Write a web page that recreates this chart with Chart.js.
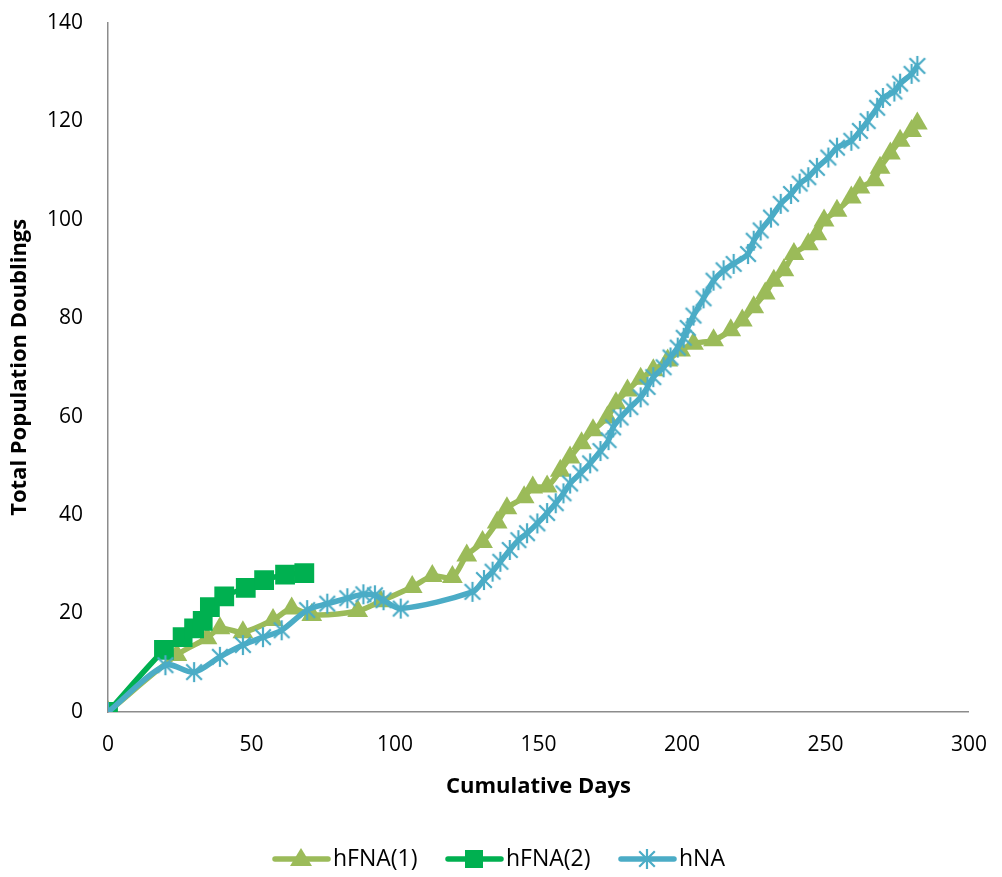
<!DOCTYPE html>
<html>
<head>
<meta charset="utf-8">
<script src="https://cdn.jsdelivr.net/npm/chart.js@4.4.0/dist/chart.umd.min.js"></script>
<style>
  html, body { margin: 0; padding: 0; background: #fff; overflow: hidden; }
  #wrap { width: 1002px; height: 877px; position: relative; overflow: hidden; }
  #c { position: absolute; left: 0; top: -15px; }
</style>
</head>
<body>
<div id="wrap"><canvas id="c" width="1007" height="892"></canvas></div>
<script>
// ---- data ----
const seriesNames = ['hFNA(1)', 'hFNA(2)', 'hNA'];
const xTicks = [0, 50, 100, 150, 200, 250, 300];
const yTicks = [0, 20, 40, 60, 80, 100, 120, 140];

const hFNA1Days = [0, 24, 34.5, 39, 47, 57.5, 64, 71, 87, 95, 106, 113, 120, 125, 130.5, 135.6, 139, 145, 148, 153, 157.6, 161, 165, 169, 174, 177, 181, 185.6, 190, 195, 199.5, 204, 211, 217, 221, 225, 229, 232, 235.5, 239, 244, 247, 249.5, 254, 259, 262, 267, 269, 272.6, 276, 280, 282];
const hFNA1PD   = [0, 11.6, 15, 17, 16.2, 18.7, 21, 19.7, 20.5, 22.5, 25.4, 27.6, 27.4, 31.8, 34.5, 38.5, 41.4, 43.6, 45.6, 45.8, 49, 51.7, 54.6, 57.2, 59.8, 62.7, 65.3, 67.7, 69.4, 71.4, 73.4, 74.8, 75.5, 77.5, 79.5, 82.2, 85, 87.6, 89.7, 93, 95, 97, 99.8, 101.8, 104.5, 106.5, 108, 110.5, 113.4, 116, 118, 119.5];

const hFNA2Days = [0, 19.5, 26, 30, 33, 35.5, 40.5, 48, 54.4, 61.7, 68.4];
const hFNA2PD   = [0, 12.6, 15.2, 17, 18.5, 21.3, 23.5, 25.2, 26.8, 27.9, 28.2];

const hNADays = [0, 20, 30, 39, 47, 54, 60.5, 69.4, 76.4, 83.4, 89, 93, 96, 102, 127, 131, 134, 136.7, 140, 143, 146, 149.6, 153, 156, 158.7, 161, 164.6, 168, 171.6, 174.4, 176, 178.6, 182, 185.6, 188, 190, 193.6, 196, 198.5, 200.6, 202, 204, 207.5, 211, 214.5, 218, 223, 225, 227.4, 231, 234.4, 238, 241, 244, 247, 251, 254, 259, 262, 264.7, 268, 270, 274, 276, 280, 282];
const hNAPD   = [0, 9.5, 8.1, 11.2, 13.6, 15.2, 16.6, 20.7, 22, 23.1, 23.9, 23.7, 22.7, 21, 24.4, 26.8, 28.5, 30.5, 32.9, 34.9, 36.3, 38.3, 40.4, 42.4, 44.4, 46.4, 48.5, 50.5, 53, 55.2, 57.8, 59.8, 61.9, 63.9, 66, 68, 70, 72, 74, 76, 78, 80.5, 84, 87.6, 89.7, 91, 93, 95.7, 97.8, 100.4, 103.2, 105.2, 107.3, 108.6, 110.5, 112.6, 114.6, 116, 118, 120, 122.7, 124.7, 126, 127.6, 129.6, 131.2];

// ---- styles ----
const colors = ['#9BBB59', '#00B050', '#4BACC6'];
const FONT = "'Open Sans', 'Noto Sans', sans-serif";

function pts(xs, ys) { return xs.map((x, i) => ({ x: x, y: ys[i] })); }

// 6-armed asterisk marker like Excel's
function makeAsterisk(color, size, lw) {
  const c = document.createElement('canvas');
  c.width = size; c.height = size;
  const g = c.getContext('2d');
  const h = size / 2, r = size / 2 - 1;
  g.strokeStyle = color; g.lineWidth = lw; g.lineCap = 'butt';
  g.beginPath();
  g.moveTo(h, h - r); g.lineTo(h, h + r);
  const d = r * 0.78;
  g.moveTo(h - d, h - d); g.lineTo(h + d, h + d);
  g.moveTo(h + d, h - d); g.lineTo(h - d, h + d);
  g.stroke();
  return c;
}
const asterisk = makeAsterisk(colors[2], 22, 2.2);

const customLegend = {
  id: 'customLegend',
  afterDraw(chart) {
    const ctx = chart.ctx;
    const items = [
      { x: 272, text: seriesNames[0], color: colors[0], marker: 'tri' },
      { x: 445, text: seriesNames[1], color: colors[1], marker: 'sq' },
      { x: 618, text: seriesNames[2], color: colors[2], marker: 'ast' }
    ];
    const y = 874;
    ctx.save();
    items.forEach(it => {
      ctx.strokeStyle = it.color; ctx.lineWidth = 5.5; ctx.lineCap = 'round';
      ctx.beginPath(); ctx.moveTo(it.x + 3, y); ctx.lineTo(it.x + 56, y); ctx.stroke();
      const mx = it.x + 29;
      ctx.fillStyle = it.color;
      if (it.marker === 'tri') {
        ctx.beginPath(); ctx.moveTo(mx, y - 11); ctx.lineTo(mx + 11, y + 7); ctx.lineTo(mx - 11, y + 7); ctx.closePath(); ctx.fill();
      } else if (it.marker === 'sq') {
        ctx.fillRect(mx - 9, y - 9, 18, 18);
      } else {
        ctx.drawImage(asterisk, mx - 11, y - 11);
      }
      ctx.fillStyle = '#000';
      ctx.font = '23px ' + FONT;
      ctx.textBaseline = 'middle'; ctx.textAlign = 'left';
      ctx.fillText(it.text, it.x + 61, y);
    });
    ctx.restore();
  }
};

new Chart(document.getElementById('c'), {
  type: 'line',
  data: {
    datasets: [
      {
        label: seriesNames[0], data: pts(hFNA1Days, hFNA1PD),
        borderColor: colors[0], backgroundColor: colors[0], borderWidth: 5.5,
        pointStyle: 'triangle', pointRadius: 12, pointBorderWidth: 0,
        tension: 0.3, order: 3
      },
      {
        label: seriesNames[1], data: pts(hFNA2Days, hFNA2PD),
        borderColor: colors[1], backgroundColor: colors[1], borderWidth: 5.5,
        pointStyle: 'rect', pointRadius: 14, pointBorderWidth: 0,
        tension: 0.3, order: 2
      },
      {
        label: seriesNames[2], data: pts(hNADays, hNAPD),
        borderColor: colors[2], backgroundColor: colors[2], borderWidth: 5.5,
        pointStyle: asterisk, pointRadius: 10,
        tension: 0.3, order: 1
      }
    ]
  },
  options: {
    responsive: false,
    animation: false,
    events: [],
    layout: { padding: { left: 0, top: 7, right: 29, bottom: 77 } },
    plugins: { legend: { display: false }, tooltip: { enabled: false } },
    scales: {
      x: {
        type: 'linear', min: 0, max: 300,
        afterBuildTicks: s => { s.ticks = xTicks.map(v => ({ value: v })); },
        afterFit: s => { s.height = 88; },
        grid: { display: false, drawTicks: false },
        border: { display: true, color: '#8C8C8C', width: 1.5 },
        ticks: { color: '#000', font: { family: FONT, size: 21 }, padding: 20, maxRotation: 0 },
        title: { display: true, text: 'Cumulative Days', color: '#000', font: { family: FONT, size: 22, weight: 'bold' }, padding: { top: 0, bottom: 0 } }
      },
      y: {
        type: 'linear', min: 0, max: 140,
        afterBuildTicks: s => { s.ticks = yTicks.map(v => ({ value: v })); },
        afterFit: s => { s.width = 108; },
        grid: { display: false, drawTicks: false },
        border: { display: true, color: '#8C8C8C', width: 1.5 },
        ticks: { color: '#000', font: { family: FONT, size: 21 }, padding: 25 },
        title: { display: true, text: 'Total Population Doublings', color: '#000', font: { family: FONT, size: 22, weight: 'bold' }, padding: { top: 7, bottom: 0 } }
      }
    }
  },
  plugins: [customLegend]
});
</script>
</body>
</html>
